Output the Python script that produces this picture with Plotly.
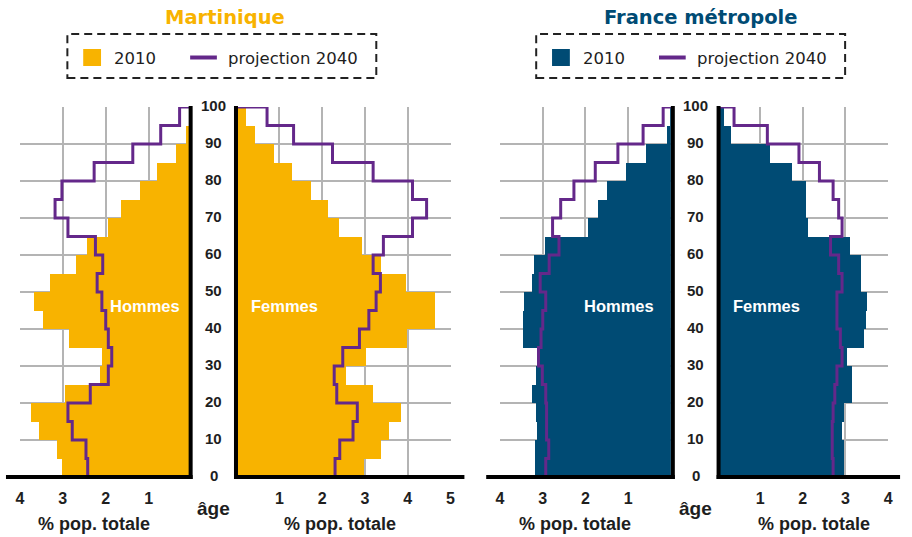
import plotly.graph_objects as go

# ---------------- data ----------------
age_start = [0, 5, 10, 15, 20, 25, 30, 35, 40, 45, 50, 55, 60, 65, 70, 75, 80, 85, 90, 95]
age_ticks = [0, 10, 20, 30, 40, 50, 60, 70, 80, 90, 100]
age_tick_text = [str(a) for a in age_ticks]

# Martinique (% of total population)
mq_hommes_2010 = [3.02, 3.14, 3.56, 3.75, 2.95, 2.14, 2.08, 2.87, 3.46, 3.67,
                  3.31, 2.69, 2.43, 1.96, 1.65, 1.21, 0.80, 0.37, 0.14, 0.03]
mq_hommes_2040 = [2.42, 2.46, 2.78, 2.88, 2.36, 1.94, 1.86, 1.94, 2.00, 2.09,
                  2.20, 2.07, 2.24, 2.88, 3.18, 3.02, 2.27, 1.37, 0.72, 0.28]
mq_femmes_2010 = [2.97, 3.36, 3.55, 3.83, 3.18, 2.55, 3.01, 3.97, 4.62, 4.63,
                  3.96, 3.37, 2.93, 2.38, 2.12, 1.74, 1.29, 0.87, 0.42, 0.21]
mq_femmes_2040 = [2.30, 2.41, 2.72, 2.82, 2.34, 2.28, 2.48, 2.87, 3.09, 3.26,
                  3.36, 3.19, 3.43, 4.11, 4.44, 4.11, 3.19, 2.24, 1.33, 0.71]

# France métropole (% of total population)
fr_hommes_2010 = [3.19, 3.19, 3.13, 3.15, 3.26, 3.15, 3.13, 3.47, 3.47, 3.43,
                  3.26, 3.21, 2.95, 1.94, 1.71, 1.50, 1.05, 0.59, 0.08, 0.01]
fr_hommes_2040 = [2.93, 2.86, 2.91, 2.91, 2.93, 3.01, 3.10, 3.04, 3.00, 2.93,
                  3.06, 2.85, 2.62, 2.77, 2.58, 2.27, 1.77, 1.24, 0.65, 0.18]
fr_femmes_2010 = [2.98, 2.98, 2.92, 2.98, 3.15, 3.15, 3.04, 3.44, 3.49, 3.52,
                  3.38, 3.38, 3.11, 2.14, 2.09, 2.09, 1.75, 1.25, 0.33, 0.16]
fr_femmes_2040 = [2.71, 2.69, 2.69, 2.71, 2.75, 2.80, 2.92, 2.88, 2.80, 2.80,
                  2.92, 2.84, 2.65, 2.92, 2.84, 2.71, 2.39, 1.91, 1.17, 0.39]

ticks_mq_hommes = [1, 2, 3, 4]
ticks_mq_femmes = [1, 2, 3, 4, 5]
ticks_fr_hommes = [1, 2, 3, 4]
ticks_fr_femmes = [1, 2, 3, 4]

legend_bar = "2010"
legend_line = "projection 2040"
title_mq = "Martinique"
title_fr = "France métropole"
label_h = "Hommes"
label_f = "Femmes"
label_x = "% pop. totale"
label_age = "âge"

# ---------------- style ----------------
W, H = 912, 537
ORANGE = "#F8B300"
BLUE = "#004B74"
PURPLE = "#64288A"
GRID = "#B4B4B4"
TXT = "#1E1E1E"
COND = "Liberation Sans, Arial, sans-serif"
WIDE = "DejaVu Sans, Verdana, sans-serif"


def px(x):
    return x / W


def py(y):
    return 1 - y / H


Y_DOM = [py(477), py(107)]
BAND = 5

panels = [
    dict(dom=[16, 189.5], rng=[4, 0], bars=mq_hommes_2010, line=mq_hommes_2040,
         color=ORANGE, ticks=ticks_mq_hommes),
    dict(dom=[235, 451], rng=[0, 5], bars=mq_femmes_2010, line=mq_femmes_2040,
         color=ORANGE, ticks=ticks_mq_femmes),
    dict(dom=[501, 673.5], rng=[4, 0], bars=fr_hommes_2010, line=fr_hommes_2040,
         color=BLUE, ticks=ticks_fr_hommes),
    dict(dom=[720.5, 893], rng=[0, 4], bars=fr_femmes_2010, line=fr_femmes_2040,
         color=BLUE, ticks=ticks_fr_femmes),
]

fig = go.Figure()
layout_axes = {}
for i, p in enumerate(panels):
    n = "" if i == 0 else str(i + 1)
    xa, ya = "x" + n, "y" + n
    centers = [a + BAND / 2 for a in age_start]
    fig.add_trace(go.Bar(
        x=p["bars"], y=centers, orientation="h", width=BAND,
        marker=dict(color=p["color"], line=dict(width=0)),
        xaxis=xa, yaxis=ya, showlegend=False, hoverinfo="skip"))
    fig.add_trace(go.Scatter(
        x=p["line"] + [0], y=age_start + [100], mode="lines",
        line=dict(color=PURPLE, width=3, shape="vh"),
        xaxis=xa, yaxis=ya, showlegend=False, hoverinfo="skip"))
    layout_axes["xaxis" + n] = dict(
        domain=[px(p["dom"][0]), px(p["dom"][1])], range=p["rng"], anchor=ya,
        tickvals=p["ticks"], ticktext=[str(t) for t in p["ticks"]],
        showgrid=True, gridcolor=GRID, gridwidth=2, zeroline=False,
        showline=False, ticks="outside", ticklen=7, tickcolor="rgba(0,0,0,0)",
        tickfont=dict(family=COND, size=16, color=TXT, weight="bold"),
        layer="above traces", fixedrange=True)
    layout_axes["yaxis" + n] = dict(
        domain=Y_DOM, range=[0, 100], anchor=xa, tickvals=age_ticks,
        showticklabels=False, showgrid=True, gridcolor=GRID, gridwidth=2,
        zeroline=False, showline=False, ticks="", layer="above traces",
        fixedrange=True)

shapes = []
# thick black axes (vertical at 0 and bottom baselines)
for xv in [188.5, 234.3, 675.5, 721.7]:
    shapes.append(dict(type="line", xref="paper", yref="paper",
                       x0=px(xv), x1=px(xv), y0=py(479), y1=py(106),
                       line=dict(color="black", width=4)))
for x0, x1 in [(2, 190.5), (232.3, 465), (487, 677.5), (719.7, 905)]:
    shapes.append(dict(type="line", xref="paper", yref="paper",
                       x0=px(x0), x1=px(x1), y0=py(477), y1=py(477),
                       line=dict(color="black", width=4)))

annotations = []


def text(x, y, s, size, color=TXT, family=COND, weight="bold", xanchor="center"):
    annotations.append(dict(xref="paper", yref="paper", x=px(x), y=py(y),
                            text=s, showarrow=False, xanchor=xanchor,
                            yanchor="middle",
                            font=dict(family=family, size=size, color=color,
                                      weight=weight)))


# titles and legends
for cx, title, col, bx0 in [(223, title_mq, ORANGE, 64), (703, title_fr, BLUE, 537.5)]:
    text(cx, 17, title, 19.5, color=col, family=WIDE)
    shapes.append(dict(type="rect", xref="paper", yref="paper",
                       x0=px(bx0), x1=px(bx0 + 312), y0=py(78), y1=py(34),
                       line=dict(color="#222222", width=2, dash="8px,5px")))
    shapes.append(dict(type="rect", xref="paper", yref="paper",
                       x0=px(bx0 + 16), x1=px(bx0 + 34), y0=py(66), y1=py(49),
                       fillcolor=col, line=dict(width=0)))
    shapes.append(dict(type="line", xref="paper", yref="paper",
                       x0=px(bx0 + 124), x1=px(bx0 + 151), y0=py(57.5), y1=py(57.5),
                       line=dict(color=PURPLE, width=4)))
    text(bx0 + 45, 58, legend_bar, 16.5, family=WIDE, weight="normal", xanchor="left")
    text(bx0 + 160, 58, legend_line, 16.5, family=WIDE, weight="normal", xanchor="left")

# age labels between the half-pyramids
for cx, yref in [(212, "y"), (698.5, "y3")]:
    for a, s in zip(age_ticks, age_tick_text):
        annotations.append(dict(xref="paper", yref=yref, x=px(cx), y=a, text=s,
                                showarrow=False, xanchor="center", yanchor="middle",
                                yshift=2,
                                font=dict(family=COND, size=15, color=TXT,
                                          weight="bold")))
    text(cx, 508, label_age, 19)

# axis titles
for cx in [91, 339, 577, 818]:
    text(cx, 524, label_x, 18)

# sex labels inside bars
text(142, 306, label_h, 16.5, color="white")
text(283, 306, label_f, 16.5, color="white")
text(621, 306, label_h, 16.5, color="white")
text(770, 306, label_f, 16.5, color="white")

fig.update_layout(
    width=W, height=H, margin=dict(l=0, r=0, t=0, b=0),
    paper_bgcolor="white", plot_bgcolor="white",
    bargap=0, barmode="overlay", showlegend=False,
    shapes=shapes, annotations=annotations, **layout_axes)

fig.write_html("out.html", config={"displayModeBar": False},
               post_script="document.body.style.margin='0';document.body.style.overflow='hidden';")
